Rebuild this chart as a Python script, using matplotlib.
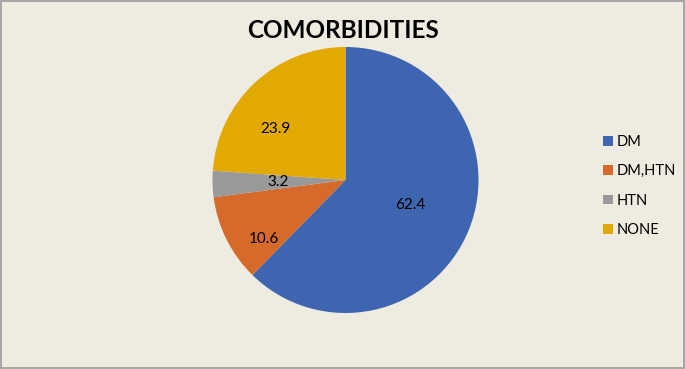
import numpy as np
import matplotlib.pyplot as plt
from matplotlib.patches import Patch, Rectangle

categories = ["DM", "DM,HTN", "HTN", "NONE"]
values = [62.4, 10.6, 3.2, 23.9]
colors = ["#3E65B0", "#D66A2B", "#999999", "#E2A900"]

# where the value labels sit inside each wedge (radius fraction, angle in degrees)
label_dist = [0.52, 0.76, 0.51, 0.65]
label_ang = [-21, 216, 182, 144]

plt.rcParams['font.family'] = ['Lato', 'DejaVu Sans']
bg = "#EEEBE0"

fig = plt.figure(figsize=(6.85, 3.69), dpi=100)
fig.patch.set_facecolor(bg)
fig.patches.append(Rectangle((0.001, 0.002), 0.997, 0.995, transform=fig.transFigure,
                             fill=False, edgecolor="#9A9A9A", linewidth=1.2))

cx, cy, r = 345.5, 189, 133
ax = fig.add_axes([(cx - r) / 685, (cy - r) / 369, 2 * r / 685, 2 * r / 369])
ax.set_facecolor(bg)
wedges, _ = ax.pie(values, colors=colors, startangle=90, counterclock=False,
                   radius=1.0, wedgeprops=dict(linewidth=0))
ax.set_xlim(-1, 1)
ax.set_ylim(-1, 1)
ax.axis("off")

for v, d, a in zip(values, label_dist, label_ang):
    t = np.deg2rad(a)
    ax.text(d * np.cos(t), d * np.sin(t), f"{v:.1f}", ha="center", va="center",
            fontsize=11, color="black")

fig.text(343 / 685, 1 - 30 / 369, "COMORBIDITIES", ha="center", va="center",
         fontsize=17.5, fontweight="bold", color="black")

handles = [Patch(facecolor=c, edgecolor="none") for c in colors]
fig.legend(handles, categories, loc="center left", bbox_to_anchor=(590 / 685, 1 - 186 / 369),
           frameon=False, fontsize=10.5, handlelength=0.65, handleheight=0.65,
           handletextpad=0.3, labelspacing=1.05)

fig.savefig("out.png", dpi=100, facecolor=bg)
